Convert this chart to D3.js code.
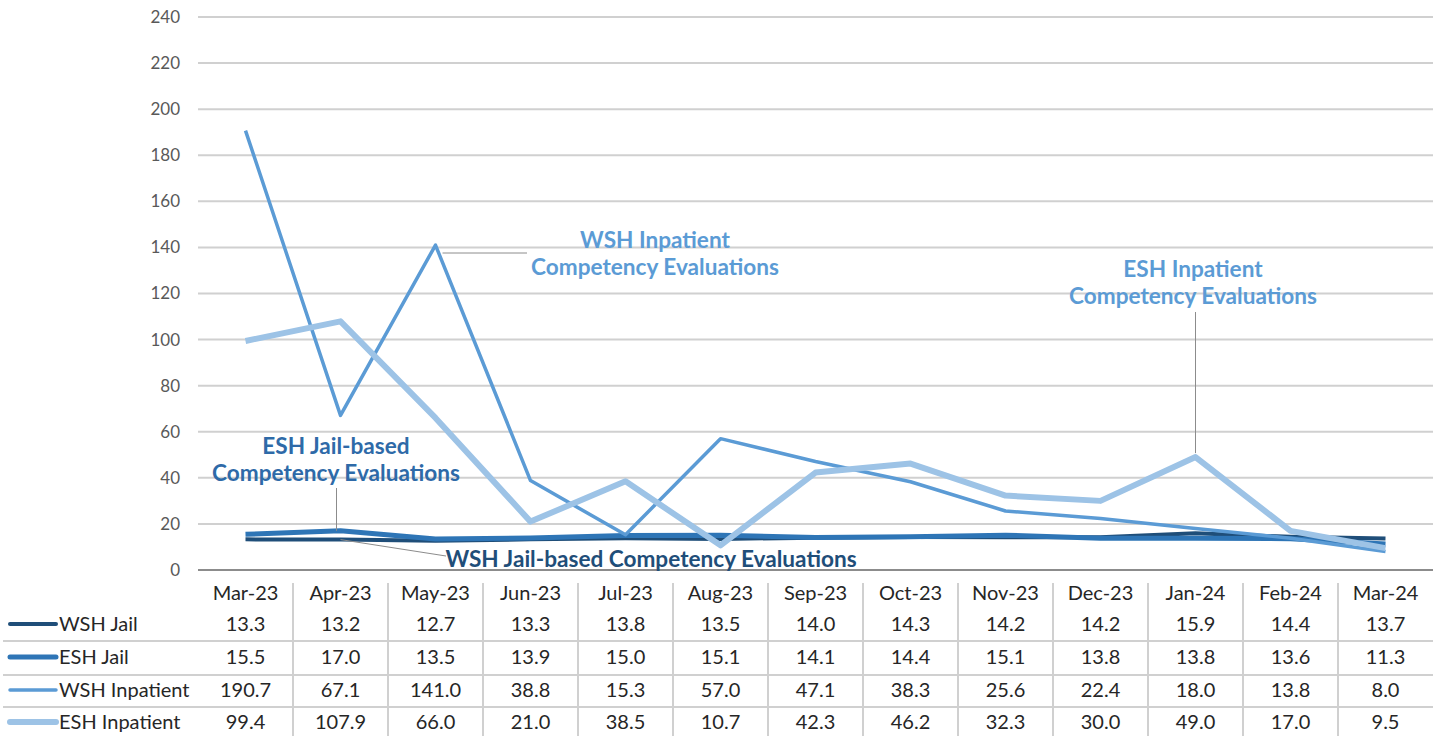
<!DOCTYPE html>
<html>
<head>
<meta charset="utf-8">
<script src="https://cdn.jsdelivr.net/npm/d3@7"></script>
<style>
  body { margin: 0; background: #ffffff; }
  svg { display: block; }
</style>
</head>
<body>
<script>
// months along the x axis
var months = ["Mar-23", "Apr-23", "May-23", "Jun-23", "Jul-23", "Aug-23", "Sep-23",
              "Oct-23", "Nov-23", "Dec-23", "Jan-24", "Feb-24", "Mar-24"];

// series values
var wshJail = [13.3, 13.2, 12.7, 13.3, 13.8, 13.5, 14.0, 14.3, 14.2, 14.2, 15.9, 14.4, 13.7];
var eshJail = [15.5, 17.0, 13.5, 13.9, 15.0, 15.1, 14.1, 14.4, 15.1, 13.8, 13.8, 13.6, 11.3];
var wshInpatient = [190.7, 67.1, 141.0, 38.8, 15.3, 57.0, 47.1, 38.3, 25.6, 22.4, 18.0, 13.8, 8.0];
var eshInpatient = [99.4, 107.9, 66.0, 21.0, 38.5, 10.7, 42.3, 46.2, 32.3, 30.0, 49.0, 17.0, 9.5];

var seriesNames = ["WSH Jail", "ESH Jail", "WSH Inpatient", "ESH Inpatient"];
var seriesValues = [wshJail, eshJail, wshInpatient, eshInpatient];

// y axis ticks
var yTicks = [0, 20, 40, 60, 80, 100, 120, 140, 160, 180, 200, 220, 240];

// styles per series
var colors = ["#1f4e79", "#2e75b6", "#5b9bd5", "#9dc3e6"];
var widths = [4, 5, 3.5, 6];

var width = 1440, height = 736;
var plotLeft = 198, plotRight = 1433, plotTop = 17, plotBottom = 570;

var svg = d3.select("body").append("svg")
  .attr("width", width)
  .attr("height", height);

var x = d3.scaleBand().domain(months).range([plotLeft, plotRight]).padding(0);
var y = d3.scaleLinear().domain([0, 240]).range([plotBottom, plotTop]);
var cx = function(m) { return x(m) + x.bandwidth() / 2; };

// gridlines
svg.append("g")
  .selectAll("line")
  .data(yTicks.slice(1))
  .enter().append("line")
    .attr("x1", plotLeft).attr("x2", plotRight)
    .attr("y1", function(d) { return y(d); })
    .attr("y2", function(d) { return y(d); })
    .attr("stroke", "#d0d0d0")
    .attr("stroke-width", 2);

// y axis labels
var yAxis = d3.axisLeft(y).tickValues(yTicks).tickSize(0).tickPadding(18);
var yg = svg.append("g")
  .attr("transform", "translate(" + plotLeft + ",0)")
  .call(yAxis);
yg.select(".domain").remove();
yg.selectAll("text")
  .attr("font-family", "Lato, sans-serif")
  .attr("font-size", 17)
  .attr("fill", "#595959");

// zero baseline
svg.append("line")
  .attr("x1", plotLeft).attr("x2", plotRight)
  .attr("y1", y(0)).attr("y2", y(0))
  .attr("stroke", "#8c8c8c")
  .attr("stroke-width", 2);

// lines
var line = d3.line()
  .x(function(d, i) { return cx(months[i]); })
  .y(function(d) { return y(d); });

seriesValues.forEach(function(vals, k) {
  svg.append("path")
    .datum(vals)
    .attr("d", line)
    .attr("fill", "none")
    .attr("stroke", colors[k])
    .attr("stroke-width", widths[k])
    .attr("stroke-linejoin", "round");
});

// annotations
var labelFont = "Lato, sans-serif";
function label(lines, xc, y0, color) {
  var t = svg.append("text")
    .attr("font-family", labelFont)
    .attr("font-weight", "bold")
    .attr("font-size", 22.6)
    .attr("fill", color)
    .attr("text-anchor", "middle");
  lines.forEach(function(s, i) {
    t.append("tspan").attr("x", xc).attr("y", y0 + i * 27).text(s);
  });
}
function leader(x1, y1, x2, y2) {
  svg.append("line")
    .attr("x1", x1).attr("y1", y1).attr("x2", x2).attr("y2", y2)
    .attr("stroke", "#8c8c8c").attr("stroke-width", 1);
}

// WSH inpatient
leader(cx("May-23") + 7, 253, 527, 253);
label(["WSH Inpatient", "Competency Evaluations"], 655, 248, "#5b9bd5");

// ESH inpatient
leader(cx("Jan-24"), 312, cx("Jan-24"), y(49.0) - 4);
label(["ESH Inpatient", "Competency Evaluations"], 1193, 277, "#5b9bd5");

// ESH jail-based
leader(cx("Apr-23") - 4, 488, cx("Apr-23") - 4, y(17.0));
label(["ESH Jail-based", "Competency Evaluations"], 336, 454, "#2e6aa8");

// WSH jail-based
leader(cx("Apr-23"), y(13.2), 446, 556);
label(["WSH Jail-based Competency Evaluations"], 651, 567, "#1f4e79");

// data table
var headerY = 593;
var rowY = [624, 657, 690, 722];
var sepY = [641, 675, 707];

var table = svg.append("g")
  .attr("font-family", "Lato, sans-serif")
  .attr("font-size", 20)
  .attr("fill", "#262626");

// vertical separators
table.selectAll(".vsep")
  .data(months.slice(1))
  .enter().append("line")
    .attr("x1", function(d) { return x(d); })
    .attr("x2", function(d) { return x(d); })
    .attr("y1", 583).attr("y2", height)
    .attr("stroke", "#d0d0d0")
    .attr("stroke-width", 2);

// horizontal separators
table.selectAll(".hsep")
  .data(sepY)
  .enter().append("line")
    .attr("x1", 3).attr("x2", plotRight)
    .attr("y1", function(d) { return d; })
    .attr("y2", function(d) { return d; })
    .attr("stroke", "#d0d0d0")
    .attr("stroke-width", 2);

// month headers
table.selectAll(".hdr")
  .data(months)
  .enter().append("text")
    .attr("x", function(d) { return cx(d); })
    .attr("y", headerY)
    .attr("dy", "0.35em")
    .attr("text-anchor", "middle")
    .text(function(d) { return d; });

// rows
seriesValues.forEach(function(vals, k) {
  table.append("line")
    .attr("x1", 10).attr("x2", 56)
    .attr("y1", rowY[k]).attr("y2", rowY[k])
    .attr("stroke", colors[k])
    .attr("stroke-width", widths[k])
    .attr("stroke-linecap", "round");
  table.append("text")
    .attr("x", 59)
    .attr("y", rowY[k])
    .attr("dy", "0.35em")
    .text(seriesNames[k]);
  table.selectAll(".v" + k)
    .data(vals)
    .enter().append("text")
      .attr("x", function(d, i) { return cx(months[i]); })
      .attr("y", rowY[k])
      .attr("dy", "0.35em")
      .attr("text-anchor", "middle")
      .text(function(d) { return d.toFixed(1); });
});
</script>
</body>
</html>
